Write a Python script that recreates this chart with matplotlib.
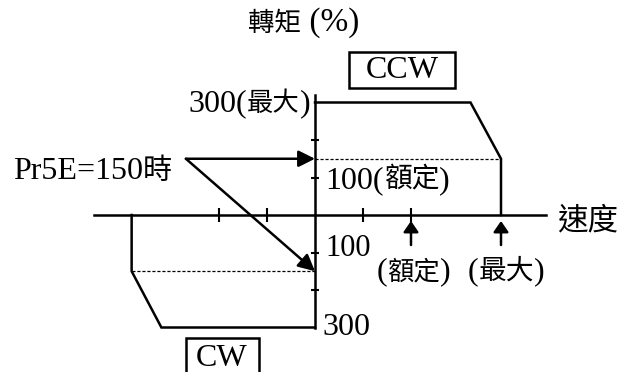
import matplotlib
matplotlib.use("Agg")
import matplotlib.pyplot as plt
from matplotlib.offsetbox import TextArea, HPacker, AnnotationBbox
from matplotlib.patches import Rectangle

LAT = ["Liberation Serif", "DejaVu Serif"]
CJK = ["Noto Sans CJK TC", "DejaVu Sans"]

# Torque limit profile (speed in tick units, torque in %)
ccw_speed = [0, 3.24, 3.875, 3.875]
ccw_torque = [300, 300, 150, 0]
cw_speed = [0, -3.2, -3.82, -3.82]
cw_torque = [-300, -300, -150, 0]

pr5e = 150          # torque limit set by Pr5E
rated_speed = 2
max_speed = 3.875

speed_ticks = [-2, -1, 1, 2]
torque_ticks = [-200, -100, 100, 200]


def mixed(ax, s, xy, align, lat=23, cjk=19):
    # split into latin / CJK runs so each gets its own font and size
    runs = []
    for ch in s:
        k = ord(ch) > 0x2E80
        if runs and runs[-1][0] == k:
            runs[-1][1] += ch
        else:
            runs.append([k, ch])
    kids = [TextArea(t, textprops=dict(fontsize=cjk if k else lat,
                                       family=CJK if k else LAT))
            for k, t in runs]
    box = HPacker(children=kids, pad=0, sep=0, align="baseline")
    ax.add_artist(AnnotationBbox(box, xy, frameon=False, pad=0,
                                 box_alignment=align))


fig = plt.figure(figsize=(6.23, 3.72), dpi=100)
ax = fig.add_axes([0, 0, 1, 1])
ax.set_xlim(-315 / 48, (623 - 315) / 48)
ax.set_ylim(-157 / 0.375, 215 / 0.375)

# axes through the origin
for side in ["top", "right"]:
    ax.spines[side].set_visible(False)
ax.spines["left"].set_position(("data", 0))
ax.spines["bottom"].set_position(("data", 0))
ax.spines["left"].set_bounds(-300, 320)
ax.spines["bottom"].set_bounds(-4.6, 4.81)
ax.spines["left"].set_linewidth(1.8)
ax.spines["bottom"].set_linewidth(1.8)
ax.set_xticks(speed_ticks)
ax.set_yticks(torque_ticks)
ax.tick_params(axis="x", direction="inout", length=10, width=1.5, labelbottom=False)
ax.tick_params(axis="y", direction="inout", length=6, width=1.5, labelleft=False)

# limit curves
ax.plot(ccw_speed, ccw_torque, color="black", lw=1.8, solid_joinstyle="miter")
ax.plot(cw_speed, cw_torque, color="black", lw=1.8, solid_joinstyle="miter")
ax.plot([0, ccw_speed[-1]], [pr5e, pr5e], color="black", lw=0.9, ls=(0, (2.5, 1.5)))
ax.plot([0, cw_speed[-1]], [-pr5e, -pr5e], color="black", lw=0.9, ls=(0, (2.5, 1.5)))

# arrows from the Pr5E label
aprops = dict(arrowstyle="-|>,head_length=1.0,head_width=0.5", color="black",
              lw=1.8, shrinkA=0, shrinkB=0, mutation_scale=10)
ax.annotate("", xy=(0, pr5e), xytext=(-2.69, pr5e), arrowprops=aprops)
ax.annotate("", xy=(0, -pr5e), xytext=(-2.69, pr5e), arrowprops=aprops)

# up arrows at rated / max speed
uprops = dict(aprops, arrowstyle="-|>,head_length=0.65,head_width=0.45")
for sp in [rated_speed, max_speed]:
    ax.annotate("", xy=(sp, -16), xytext=(sp, -80), arrowprops=uprops)

# CCW / CW boxes
ax.add_patch(Rectangle((0.708, 338.7), 2.209, 96, fill=False, lw=1.8, ec="black"))
ax.add_patch(Rectangle((-2.6875, -440), 1.52, 112, fill=False, lw=1.8, ec="black"))

mixed(ax, "轉矩 (%)", (-0.23, 512), (0.5, 0.5), lat=24, cjk=19)
mixed(ax, "CCW", (1.81, 384), (0.5, 0.5))
mixed(ax, "300(最大)", (-0.1, 297), (1, 0.5))
mixed(ax, "Pr5E=150時", (-6.29, 118), (0, 0.5), cjk=21)
mixed(ax, "100(額定)", (0.21, 94), (0, 0.5), cjk=20)
mixed(ax, "速度", (5.04, -15), (0, 0.5), cjk=22)
mixed(ax, "100", (0.21, -90), (0, 0.5), lat=22)
mixed(ax, "(額定)", (2.05, -152), (0.5, 0.5))
mixed(ax, "(最大)", (3.98, -149), (0.5, 0.5), cjk=20)
mixed(ax, "300", (0.15, -301), (0, 0.5))
mixed(ax, "CW", (-1.94, -382), (0.5, 0.5))

fig.savefig("out.png", dpi=100)
